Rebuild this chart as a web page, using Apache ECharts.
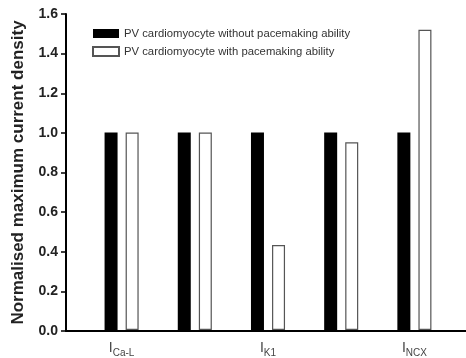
<!DOCTYPE html>
<html>
<head>
<meta charset="utf-8">
<script src="https://cdn.jsdelivr.net/npm/echarts@6/dist/echarts.min.js"></script>
<style>
  html, body { margin: 0; padding: 0; background: #fff; }
  #main { width: 466px; height: 358px; }
</style>
</head>
<body>
<div id="main"></div>
<script>
// channel names (I + subscript)
const categories = ['Ca-L', 'Na', 'K1', 'to', 'NCX']
const withoutPacemaking = [1.0, 1.0, 1.0, 1.0, 1.0]
const withPacemaking = [1.0, 1.0, 0.43, 0.95, 1.52]
const yTicks = [0, 0.2, 0.4, 0.6, 0.8, 1.0, 1.2, 1.4, 1.6]

const font = 'Arial, "Liberation Sans", sans-serif'
const chart = echarts.init(document.getElementById('main'))

chart.setOption({
  animation: false,
  legend: {
    orient: 'vertical',
    left: 87,
    top: 23,
    itemWidth: 26,
    itemHeight: 9,
    itemGap: 7,
    textStyle: { fontFamily: font, fontSize: 11.3, color: '#333' },
    data: [
      { name: 'PV cardiomyocyte without pacemaking ability', icon: 'rect' },
      { name: 'PV cardiomyocyte with pacemaking ability', icon: 'rect' }
    ]
  },
  grid: [
    // frame grid: axis lines + y ticks
    { left: 66, right: 0, top: 14, bottom: 27 },
    // bar grid
    { left: 85, width: 366, top: 14, bottom: 27 }
  ],
  xAxis: [
    {
      gridIndex: 0,
      type: 'value',
      min: 0,
      max: 1,
      axisLine: { show: true, lineStyle: { color: '#000', width: 2 } },
      axisTick: { show: false },
      axisLabel: { show: false },
      splitLine: { show: false }
    },
    {
      gridIndex: 1,
      type: 'category',
      data: categories,
      axisLine: { show: false },
      axisTick: { show: false },
      axisLabel: {
        margin: 9,
        formatter: (v) => '{i|I}{s|' + v + '}',
        rich: {
          i: { fontFamily: font, fontSize: 14, color: '#444' },
          s: { fontFamily: font, fontSize: 10, color: '#444', padding: [9, 0, 0, 0] }
        }
      }
    }
  ],
  yAxis: [
    {
      gridIndex: 0,
      type: 'value',
      min: 0,
      max: 1.6,
      interval: 0.2,
      name: 'Normalised maximum current density',
      nameLocation: 'middle',
      nameGap: 39,
      nameTextStyle: { fontFamily: font, fontSize: 17, fontWeight: 'bold', color: '#222' },
      axisLine: { show: true, lineStyle: { color: '#000', width: 2 } },
      axisTick: { show: true, length: 5, lineStyle: { color: '#000', width: 1.5 } },
      axisLabel: {
        margin: 8,
        fontFamily: font,
        fontSize: 14,
        fontWeight: 'bold',
        color: '#222',
        formatter: (v) => yTicks.includes(Math.round(v * 10) / 10) ? v.toFixed(1) : ''
      },
      splitLine: { show: false }
    },
    {
      gridIndex: 1,
      type: 'value',
      min: 0,
      max: 1.6,
      interval: 0.2,
      show: false
    }
  ],
  series: [
    {
      name: 'PV cardiomyocyte without pacemaking ability',
      type: 'bar',
      xAxisIndex: 1,
      yAxisIndex: 1,
      barWidth: 13,
      barGap: '62%',
      itemStyle: { color: '#000' },
      data: withoutPacemaking
    },
    {
      name: 'PV cardiomyocyte with pacemaking ability',
      type: 'bar',
      xAxisIndex: 1,
      yAxisIndex: 1,
      barWidth: 13,
      barGap: '62%',
      itemStyle: { color: '#fff', borderColor: '#555', borderWidth: 1.2 },
      data: withPacemaking
    }
  ]
})
</script>
</body>
</html>
